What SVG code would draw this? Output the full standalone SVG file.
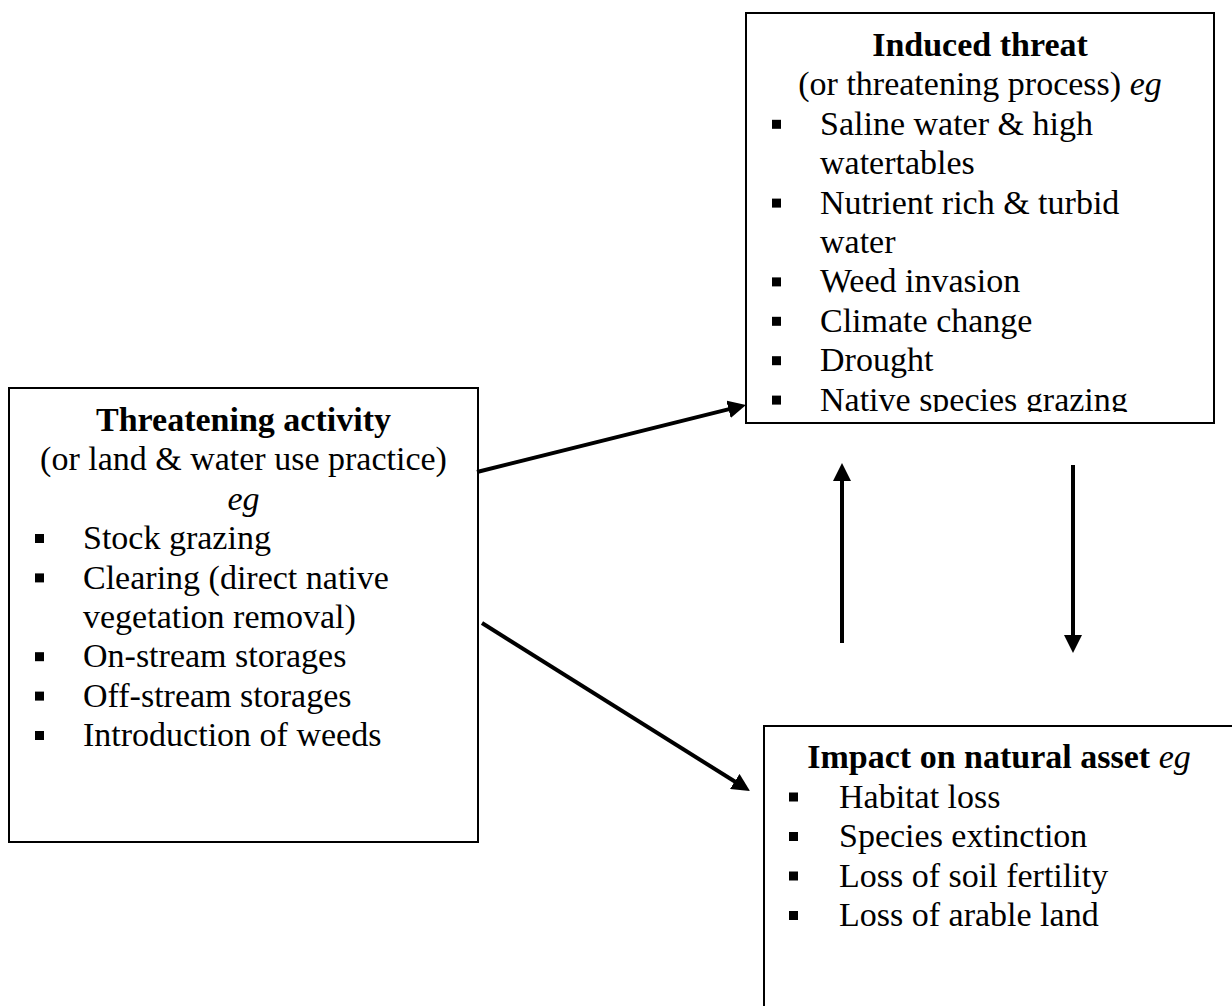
<svg xmlns="http://www.w3.org/2000/svg" width="1232" height="1006" viewBox="0 0 1232 1006">
  <style>
    .box { fill: #ffffff; stroke: #000000; stroke-width: 2; }
    .txt { font-family: "Liberation Serif", "Times New Roman", serif; font-size: 34px; fill: #000000; }
    .title { font-weight: bold; }
    .mid { text-anchor: middle; }
    .it { font-style: italic; font-weight: normal; }
    .bullet { fill: #000000; }
    .conn { stroke: #000000; stroke-width: 4; fill: none; marker-end: url(#head); }
  </style>
  <defs>
    <marker id="head" markerUnits="userSpaceOnUse" markerWidth="18" markerHeight="18" viewBox="0 0 18 18" refX="10" refY="9" orient="auto">
      <path d="M0,0 L18,9 L0,18 Z" fill="#000000"/>
    </marker>
    <clipPath id="threatClip">
      <rect x="746" y="13" width="468" height="399"/>
    </clipPath>
  </defs>

  <rect width="1232" height="1006" fill="#ffffff"/>

  <!-- Threatening activity -->
  <g id="threatening-activity">
    <rect class="box" x="9" y="388" width="469" height="454"/>
    <text class="txt title mid" x="243.5" y="431">Threatening activity</text>
    <text class="txt mid" x="243.5" y="470.4">(or land &amp; water use practice)</text>
    <text class="txt it mid" x="243.5" y="509.8">eg</text>
    <rect class="bullet" x="35" y="534" width="9" height="9"/>
    <text class="txt" x="83" y="549.2">Stock grazing</text>
    <rect class="bullet" x="35" y="573.4" width="9" height="9"/>
    <text class="txt" x="83" y="588.6">Clearing (direct native</text>
    <text class="txt" x="83" y="628">vegetation removal)</text>
    <rect class="bullet" x="35" y="652.2" width="9" height="9"/>
    <text class="txt" x="83" y="667.4">On-stream storages</text>
    <rect class="bullet" x="35" y="691.6" width="9" height="9"/>
    <text class="txt" x="83" y="706.8">Off-stream storages</text>
    <rect class="bullet" x="35" y="731" width="9" height="9"/>
    <text class="txt" x="83" y="746.2">Introduction of weeds</text>
  </g>

  <!-- Induced threat -->
  <g id="induced-threat">
    <rect class="box" x="746" y="13" width="468" height="410"/>
    <g clip-path="url(#threatClip)">
      <text class="txt title mid" x="980" y="56">Induced threat</text>
      <text class="txt mid" x="980" y="95.4">(or threatening process) <tspan class="it">eg</tspan></text>
      <rect class="bullet" x="772" y="119.8" width="9" height="9"/>
      <text class="txt" x="820" y="134.8">Saline water &amp; high</text>
      <text class="txt" x="820" y="174.2">watertables</text>
      <rect class="bullet" x="772" y="198.6" width="9" height="9"/>
      <text class="txt" x="820" y="213.6">Nutrient rich &amp; turbid</text>
      <text class="txt" x="820" y="253">water</text>
      <rect class="bullet" x="772" y="277.4" width="9" height="9"/>
      <text class="txt" x="820" y="292.4">Weed invasion</text>
      <rect class="bullet" x="772" y="316.8" width="9" height="9"/>
      <text class="txt" x="820" y="331.8">Climate change</text>
      <rect class="bullet" x="772" y="356.2" width="9" height="9"/>
      <text class="txt" x="820" y="371.2">Drought</text>
      <rect class="bullet" x="772" y="395.6" width="9" height="9"/>
      <text class="txt" x="820" y="410.6">Native species grazing</text>
    </g>
  </g>

  <!-- Impact on natural asset -->
  <g id="impact-natural-asset">
    <rect class="box" x="764" y="726" width="470" height="290"/>
    <text class="txt title mid" x="999" y="768">Impact on natural asset <tspan class="it">eg</tspan></text>
    <rect class="bullet" x="789" y="792.5" width="9" height="9"/>
    <text class="txt" x="839" y="807.5">Habitat loss</text>
    <rect class="bullet" x="789" y="832" width="9" height="9"/>
    <text class="txt" x="839" y="847">Species extinction</text>
    <rect class="bullet" x="789" y="871.5" width="9" height="9"/>
    <text class="txt" x="839" y="886.5">Loss of soil fertility</text>
    <rect class="bullet" x="789" y="911" width="9" height="9"/>
    <text class="txt" x="839" y="926">Loss of arable land</text>
  </g>

  <!-- Connectors -->
  <g id="connectors">
    <line class="conn" x1="477" y1="472" x2="738.2" y2="406.9"/>
    <line class="conn" x1="482" y1="623" x2="743.2" y2="786.8"/>
    <line class="conn" x1="842" y1="643" x2="842" y2="471"/>
    <line class="conn" x1="1073" y1="465" x2="1073" y2="645"/>
  </g>
</svg>
